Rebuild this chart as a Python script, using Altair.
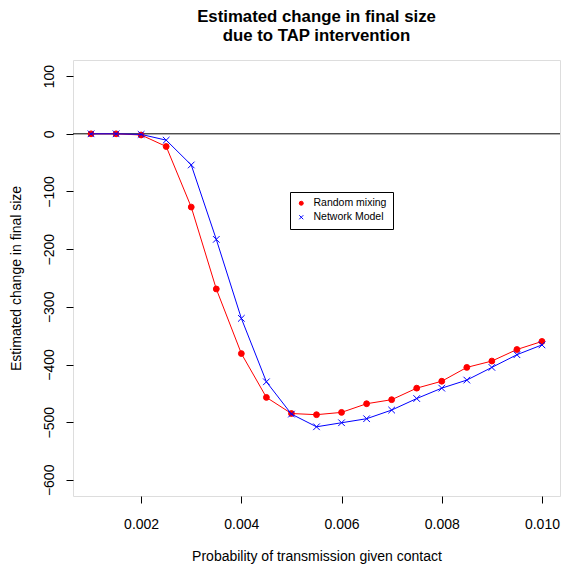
import altair as alt
import pandas as pd

x_vals = [0.001, 0.0015, 0.002, 0.0025, 0.003, 0.0035, 0.004, 0.0045, 0.005, 0.0055,
          0.006, 0.0065, 0.007, 0.0075, 0.008, 0.0085, 0.009, 0.0095, 0.010]
random_mixing = [0, 0, -2, -22, -127, -269, -381, -457, -485, -487,
                 -483, -468, -461, -441, -429, -405, -394, -374, -360]
network_model = [0, 0, -1, -11, -54, -183, -320, -430, -486, -508,
                 -501, -494, -479, -459, -441, -427, -405, -383, -366]
series_names = ["Random mixing", "Network Model"]
x_ticks = [0.002, 0.004, 0.006, 0.008, 0.010]
y_ticks = [-600, -500, -400, -300, -200, -100, 0, 100]

rows = []
for name, vals in zip(series_names, [random_mixing, network_model]):
    for xv, yv in zip(x_vals, vals):
        rows.append({"p": xv, "change": yv, "series": name})
df = pd.DataFrame(rows)

FONT = "Liberation Sans"
RED = "#FF0000"
BLUE = "#0000FF"
XSHAPE = "M-1,-1L1,1M-1,1L1,-1"

xscale = alt.Scale(domain=[0.00064, 0.01036], nice=False, zero=False)
yscale = alt.Scale(domain=[-628, 128], nice=False, zero=False)

xenc = alt.X("p:Q", scale=xscale,
             axis=alt.Axis(values=x_ticks, format=".3f", title="Probability of transmission given contact",
                           grid=False, domain=False, tickSize=7, tickColor="black",
                           labelFontSize=14, labelFont=FONT, labelColor="black",
                           labelBaseline="alphabetic", labelPadding=25,
                           titleFontSize=14, titleFont=FONT, titleFontWeight="normal", titleColor="black",
                           titlePadding=18))
yenc = alt.Y("change:Q", scale=yscale,
             axis=alt.Axis(values=y_ticks, title="Estimated change in final size",
                           grid=False, domain=False, tickSize=7, tickColor="black",
                           labelFontSize=14, labelFont=FONT, labelColor="black", labelAngle=270,
                           labelAlign="center", labelBaseline="alphabetic", labelPadding=13,
                           titleFontSize=14, titleFont=FONT, titleFontWeight="normal", titleColor="black",
                           titlePadding=19))

base = alt.Chart(df)

zero_rule = alt.Chart(pd.DataFrame({"y": [0]})).mark_rule(color="black", strokeWidth=1).encode(
    y=alt.Y("y:Q", scale=yscale)
)

legend = alt.Legend(title=None, orient="none", legendX=217, legendY=132,
                    strokeColor="black", padding=6, fillColor="white",
                    labelFont=FONT, labelFontSize=10.5, labelColor="black",
                    symbolSize=16, labelOffset=7, rowPadding=3, symbolStrokeWidth=1)

stroke_enc = alt.Stroke("series:N", scale=alt.Scale(domain=series_names, range=[RED, BLUE]), legend=legend)
fill_enc = alt.Fill("series:N", scale=alt.Scale(domain=series_names, range=[RED, "transparent"]), legend=legend)
shape_enc = alt.Shape("series:N", scale=alt.Scale(domain=series_names, range=["circle", XSHAPE]), legend=legend)


def series_layers(name, color, size):
    sub = base.transform_filter(alt.datum.series == name)
    line = sub.mark_line(color=color, strokeWidth=1).encode(x=xenc, y=yenc)
    pts = sub.mark_point(filled=False, opacity=1, strokeWidth=1, size=size).encode(
        x=xenc, y=yenc, stroke=stroke_enc, fill=fill_enc, shape=shape_enc)
    return [line, pts]


chart = alt.layer(zero_rule,
                  *series_layers("Random mixing", RED, 34),
                  *series_layers("Network Model", BLUE, 44)).properties(
    width=487, height=436,
    title=alt.TitleParams(["Estimated change in final size", "due to TAP intervention"],
                          font=FONT, fontSize=16.8, fontWeight="bold", color="black",
                          anchor="middle", offset=15, lineHeight=19.5),
    autosize=alt.AutoSizeParams(type="none"),
    padding={"left": 73, "top": 60, "right": 2, "bottom": 68},
).configure_view(stroke="black", strokeWidth=1).configure(background="white")

chart.save("out.html", embed_options={"renderer": "svg", "actions": False})
